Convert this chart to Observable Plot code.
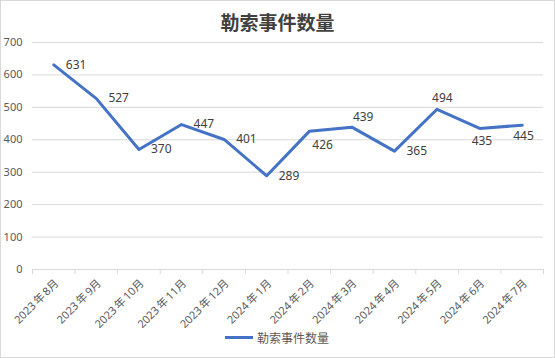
<!DOCTYPE html>
<html><head><meta charset="utf-8">
<script src="https://cdn.jsdelivr.net/npm/d3@7"></script>
<script src="https://cdn.jsdelivr.net/npm/@observablehq/plot@0.6"></script>
<style>
body{margin:0;background:#fff;font-family:"Noto Sans","Noto Sans CJK SC",sans-serif;}
#wrap{position:relative;width:555px;height:358px;overflow:hidden;background:#fff;}
#border{position:absolute;left:0;top:0;width:555px;height:358px;box-sizing:border-box;border:1px solid #d9d9d9;pointer-events:none;}
#title{position:absolute;left:0;width:555px;top:8px;text-align:center;font-family:"Noto Sans CJK SC",sans-serif;font-weight:bold;font-size:19px;color:#404040;line-height:28px;}
#legend{position:absolute;top:329px;left:225px;display:flex;align-items:center;font-family:"Noto Sans CJK SC",sans-serif;font-size:12px;color:#595959;}
#legend .sw{width:28px;height:3px;background:#4472C4;margin-right:4px;}
</style></head>
<body>
<div id="wrap">
  <div id="chart"></div>
  <div id="title">勒索事件数量</div>
  <div id="legend"><span class="sw"></span><span>勒索事件数量</span></div>
  <div id="border"></div>
</div>
<script>
const months = ["2023年8月","2023年9月","2023年10月","2023年11月","2023年12月","2024年1月","2024年2月","2024年3月","2024年4月","2024年5月","2024年6月","2024年7月"];
const counts = [631,527,370,447,401,289,426,439,365,494,435,445];
const yTicks = [0,100,200,300,400,500,600,700];
// data-label placement (styling): pixel offsets from each point
const labelDx = [12,12,12,12,12,12,3,1,12,-5,-8,-9];
const labelDy = [0,0,0,0,0,0,14,-10,0,-11,13,11];

const data = months.map((m,i)=>({i, month:m, value:counts[i]}));
const boundaries = d3.range(months.length+1).map(k=>k-0.5);

const labels = data.map((d,i)=>Plot.text([d], {x:"i", y:"value", text:d=>String(d.value), dx:labelDx[i], dy:labelDy[i], textAnchor:"start", fill:"#404040", fontSize:12}));

const chart = Plot.plot({
  width:555, height:358,
  marginTop:42, marginBottom:89, marginLeft:32, marginRight:12,
  style:{fontFamily:'"Noto Sans","Noto Sans CJK SC",sans-serif', fontSize:"11px", color:"#595959", background:"transparent"},
  x:{type:"linear", domain:[-0.5, months.length-0.5]},
  y:{domain:[0,700]},
  marks:[
    Plot.gridY(yTicks, {stroke:"#d9d9d9", strokeOpacity:1}),
    Plot.axisY(yTicks, {tickSize:0, tickPadding:10, label:null, fill:"#595959"}),
    Plot.ruleY([0], {stroke:"#d9d9d9"}),
    Plot.axisX(boundaries, {tickSize:5, tickFormat:()=>"", stroke:"#d9d9d9", label:null}),
    Plot.axisX(d3.range(months.length), {tickSize:0, tickPadding:12, dx:3, tickRotate:-45, tickFormat:i=>months[i].replace("年","\u2009年\u2009"), label:null, fill:"#595959", fontSize:11}),
    Plot.line(data, {x:"i", y:"value", stroke:"#4472C4", strokeWidth:3, strokeLinejoin:"round", strokeLinecap:"round"}),
    ...labels
  ]
});
document.getElementById("chart").appendChild(chart);
</script>
</body></html>
